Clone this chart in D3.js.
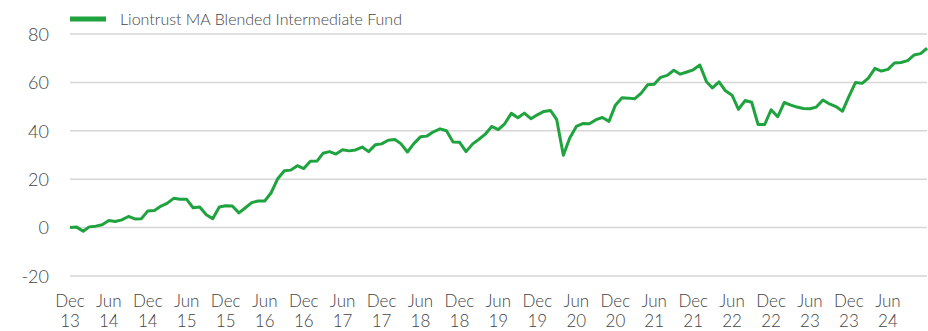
<!DOCTYPE html>
<html>
<head>
<meta charset="utf-8">
<script src="https://cdn.jsdelivr.net/npm/d3@7"></script>
<style>
  html, body { margin: 0; padding: 0; background: #fff; }
  svg text { font-family: Lato, "Open Sans", sans-serif; font-weight: 300; fill: #444; }
</style>
</head>
<body>
<svg id="chart" width="928" height="331"></svg>
<script>
// Cumulative performance (%), monthly from Dec 2013 to Dec 2024
const seriesName = "Liontrust MA Blended Intermediate Fund";
const startYear = 2013, startMonth = 11; // December 2013
const values = [
  0, 0.2, -1.5, 0.3, 0.6, 1.2, 2.9, 2.5, 3.2, 4.6,
  3.6, 3.7, 6.9, 7.1, 8.9, 10, 12.1, 11.7, 11.7, 8.2,
  8.5, 5.3, 3.7, 8.5, 9, 8.9, 6.1, 8.1, 10.3, 11,
  11, 14.4, 20.2, 23.5, 23.75, 25.6, 24.4, 27.4, 27.5, 30.7,
  31.4, 30.4, 32.2, 31.7, 32.1, 33.3, 31.4, 34.2, 34.6, 36.1,
  36.4, 34.7, 31.25, 34.7, 37.5, 37.8, 39.6, 40.8, 40, 35.4,
  35.3, 31.4, 34.6, 36.4, 38.6, 41.8, 40.5, 42.9, 47.2, 45.4,
  47.3, 45, 46.6, 48, 48.4, 44.6, 29.9, 37, 41.8, 43,
  42.9, 44.6, 45.5, 43.9, 50.6, 53.7, 53.5, 53.2, 55.6, 59,
  59.2, 62.1, 62.9, 65, 63.4, 64.3, 65.2, 67.2, 60.3, 57.7,
  60.2, 56.5, 54.7, 48.9, 52.5, 51.8, 42.6, 42.6, 48.7, 45.8,
  51.7, 50.7, 49.8, 49.2, 49.1, 49.8, 52.7, 51.1, 50, 48.1,
  54.2, 60, 59.6, 61.8, 65.8, 64.7, 65.4, 68, 68.2, 69,
  71.3, 71.9, 74.1
];
const yTicks = [-20, 0, 20, 40, 60, 80];

const data = values.map((v, i) => ({ date: new Date(startYear, startMonth + i, 1), value: v }));

const svg = d3.select("#chart");
const margin = { left: 70, right: 1 };
const width = 928;

const x = d3.scaleTime()
  .domain(d3.extent(data, d => d.date))
  .range([margin.left, width - margin.right]);
const y = d3.scaleLinear()
  .domain([-20, 80])
  .range([276, 34]);

// Horizontal gridlines
svg.append("g")
  .selectAll("line")
  .data(yTicks)
  .join("line")
  .attr("x1", margin.left)
  .attr("x2", width - 1)
  .attr("y1", d => y(d))
  .attr("y2", d => y(d))
  .attr("stroke", "#d6d6d6")
  .attr("stroke-width", 1.5);

// Y axis labels (plain hyphen for negatives)
const yAxis = d3.axisLeft(y).tickValues(yTicks).tickSize(0).tickPadding(0)
  .tickFormat(d => String(d));
svg.append("g")
  .attr("transform", "translate(49,0)")
  .call(yAxis)
  .call(g => g.select(".domain").remove())
  .call(g => g.selectAll("text")
    .style("font-size", "18px")
    .attr("dy", "0.35em"));

// X axis labels every six months, two lines (month / year)
const xTicks = data.filter(d => d.date.getMonth() === 11 || d.date.getMonth() === 5)
  .map(d => d.date)
  .filter(d => d < data[data.length - 1].date);
const fmtMonth = d3.timeFormat("%b");
const fmtYear = d3.timeFormat("%y");
const lbl = svg.append("g").selectAll("text")
  .data(xTicks)
  .join("text")
  .attr("x", d => x(d))
  .attr("text-anchor", "middle")
  .style("font-size", "17px");
lbl.append("tspan").attr("x", d => x(d)).attr("y", 307).text(d => fmtMonth(d));
lbl.append("tspan").attr("x", d => x(d)).attr("y", 327).text(d => fmtYear(d));

// Performance line
const line = d3.line()
  .x(d => x(d.date))
  .y(d => y(d.value));
svg.append("path")
  .datum(data)
  .attr("fill", "none")
  .attr("stroke", "#1fa33f")
  .attr("stroke-width", 3)
  .attr("stroke-linejoin", "round")
  .attr("d", line);

// Legend
const legend = svg.append("g");
legend.append("line")
  .attr("x1", 70).attr("x2", 106)
  .attr("y1", 19).attr("y2", 19)
  .attr("stroke", "#1fa33f")
  .attr("stroke-width", 5);
legend.append("text")
  .attr("x", 120).attr("y", 25)
  .style("font-size", "16px")
  .text(seriesName);
</script>
</body>
</html>
